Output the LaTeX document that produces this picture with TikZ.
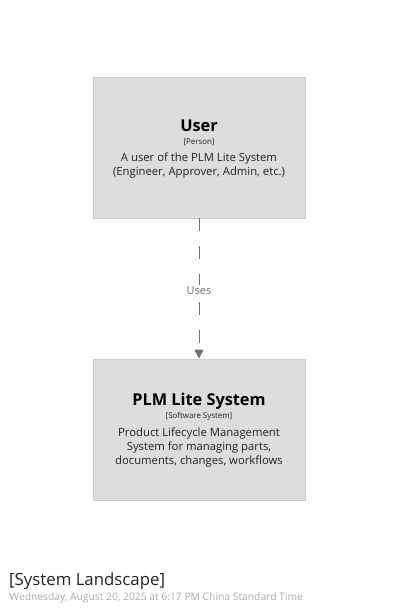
\documentclass[tikz,border=0pt]{standalone}
\usepackage{fontspec}
\setmainfont{Open Sans}
\usetikzlibrary{arrows.meta}
\definecolor{boxfill}{HTML}{DDDDDD}
\definecolor{boxline}{HTML}{CCCCCC}
\definecolor{txt}{HTML}{222222}
\definecolor{linec}{HTML}{707070}
\definecolor{datec}{HTML}{AAAAAA}
\begin{document}
\begin{tikzpicture}[x=1pt,y=-1pt,
  elem/.style={draw=boxline,fill=boxfill,line width=0.8pt,minimum width=212pt,minimum height=141pt,inner sep=0pt},
  ttl/.style={font=\fontsize{16.3}{19}\selectfont\bfseries,text=black},
  typ/.style={font=\fontsize{7.9}{9}\selectfont,text=txt},
  dsc/.style={font=\fontsize{11.3}{13.8}\selectfont,text=txt,align=center},
  rel/.style={draw=linec,line width=0.9pt,dash pattern=on 13pt off 15pt,-{Triangle[length=9pt,width=9pt]}}]
\useasboundingbox (0,0) rectangle (400,611);
\node[elem] (user) at (199,147.5) {};
\node[elem] (plm) at (199,429.5) {};
\node[ttl] (usert) at (199,126) {User};
\node[typ] (usertyp) at (199,142.5) {[Person]};
\node[dsc] (userd) at (199,165.5) {A user of the PLM Lite System\\(Engineer, Approver, Admin, etc.)};
\node[ttl] (plmt) at (199,401) {PLM Lite System};
\node[typ] (plmtyp) at (199,416.5) {[Software System]};
\node[dsc] (plmd) at (199,447.5) {Product Lifecycle Management\\System for managing parts,\\documents, changes, workflows};
\draw[rel] (user.south) -- (plm.north);
\node[fill=white,inner sep=2pt,font=\fontsize{11}{13}\selectfont,text=linec] (uses) at (199,290.5) {Uses};
\node[anchor=west,inner sep=0pt,font=\fontsize{16.8}{19}\selectfont,text=txt] (land) at (9,581) {[System Landscape]};
\node[anchor=west,inner sep=0pt,font=\fontsize{10.3}{12}\selectfont,text=datec] (date) at (9.5,598) {Wednesday, August 20, 2025 at 6:17 PM China Standard Time};
\end{tikzpicture}
\end{document}
